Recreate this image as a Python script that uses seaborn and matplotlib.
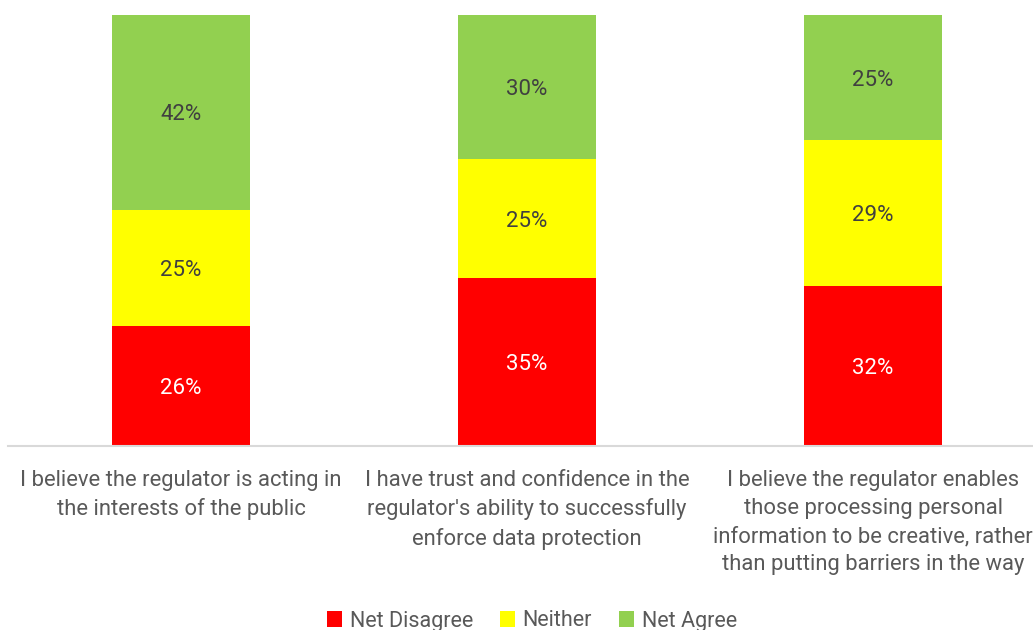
import matplotlib
matplotlib.use("Agg")
import matplotlib.pyplot as plt
import seaborn as sns
import pandas as pd
import numpy as np
from matplotlib.patches import Patch

categories = [
    "I believe the regulator is acting in\nthe interests of the public",
    "I have trust and confidence in the\nregulator's ability to successfully\nenforce data protection",
    "I believe the regulator enables\nthose processing personal\ninformation to be creative, rather\nthan putting barriers in the way",
]
series_names = ["Net Disagree", "Neither", "Net Agree"]
net_disagree = [26, 35, 32]
neither = [25, 25, 29]
net_agree = [42, 30, 25]
colors = ["#FF0000", "#FFFF00", "#92D050"]
label_colors = ["#FFFFFF", "#404040", "#404040"]

sns.set_theme(style="white")
FONT = ["Roboto", "DejaVu Sans"]
plt.rcParams["font.family"] = FONT

vals = np.array([net_disagree, neither, net_agree], dtype=float)
totals = vals.sum(axis=0)
shares = vals / totals  # 100% stacked
cum = np.cumsum(shares, axis=0)

fig = plt.figure(figsize=(10.33, 6.3), dpi=100)
ax = fig.add_axes([8 / 1033, (630 - 446) / 630, 1038 / 1033, 431 / 630])

x_labels = ["c0", "c1", "c2"]
for i in range(2, -1, -1):
    df = pd.DataFrame({"cat": x_labels, "val": cum[i]})
    sns.barplot(data=df, x="cat", y="val", color=colors[i], width=0.4,
                saturation=1, ax=ax, linewidth=0, order=x_labels)

for i in range(3):
    for j in range(3):
        bottom = cum[i][j] - shares[i][j]
        ax.text(j, bottom + shares[i][j] / 2, f"{int(vals[i][j])}%",
                ha="center", va="center_baseline", fontsize=16, color=label_colors[i])

ax.set_xlim(-0.5, 2.5)
ax.set_ylim(0, 1)
ax.set_xticks(range(3))
ax.set_xticklabels(categories, fontsize=15.8, color="#595959", linespacing=1.45)
ax.tick_params(axis="x", length=0, pad=17)
ax.set_yticks([])
ax.set_xlabel("")
ax.set_ylabel("")
for s in ["top", "left", "right"]:
    ax.spines[s].set_visible(False)
ax.spines["bottom"].set_color("#D9D9D9")
ax.spines["bottom"].set_linewidth(1.5)

handles = [Patch(facecolor=c, edgecolor="none") for c in colors]
fig.legend(handles, series_names, loc="center", bbox_to_anchor=(0.515, 1 - 621 / 630),
           ncol=3, frameon=False, fontsize=15.5, labelcolor="#595959",
           handlelength=0.7, handleheight=0.7, handletextpad=0.35, columnspacing=1.25)

fig.savefig("out.png", dpi=100)
